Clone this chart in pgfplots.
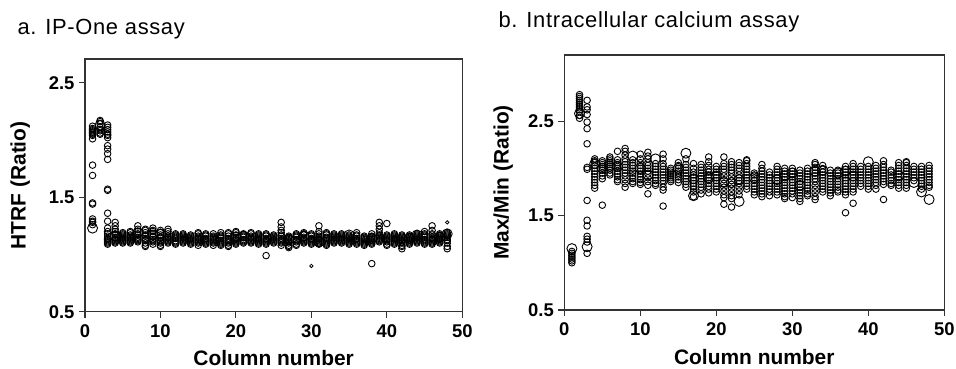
\documentclass[border=0pt]{standalone}
\usepackage{pgfplots}
\pgfplotsset{compat=1.18}
\usepackage{fontspec}
\setmainfont{Liberation Sans}
\begin{document}
\begin{tikzpicture}[x=1bp,y=1bp]
\path[use as bounding box] (0bp,0bp) rectangle (956bp,369bp);
\pgfplotsset{
  scatstyle/.style={
    scale only axis, xmin=0, xmax=50, ymin=0.5,
    axis line style={black!80, line width=1.1bp},
    tick style={black!80, line width=1.1bp},
    tick align=outside, major tick length=6bp,
    xtick pos=bottom, ytick pos=left,
    xtick={0,10,20,30,40,50}, ytick={0.5,1.5,2.5},
    minor tick num=0,
    /pgf/number format/assume math mode=true,
    tick label style={font=\fontsize{18.5}{20}\selectfont\bfseries, black},
    xticklabel style={yshift=-3bp},
    yticklabel style={xshift=-1bp},
    yticklabel={\pgfmathprintnumber[fixed,precision=1,fixed zerofill]{\tick}},
    label style={font=\fontsize{21}{24}\selectfont\bfseries},
    clip=false,
  },
  sm/.style={only marks, mark=o, mark size=3.3bp, mark options={line width=0.9bp, draw=black}},
  bg/.style={only marks, mark=o, mark size=5bp, mark options={line width=0.9bp, draw=black}},
  tn/.style={only marks, mark=o, mark size=1.7bp, mark options={line width=0.8bp, draw=black}},
}
\node[anchor=base west, font=\fontsize{22}{26}\selectfont\addfontfeature{LetterSpace=3}] at (14bp,334bp) {a. IP-One assay};
\node[anchor=base west, font=\fontsize{22}{26}\selectfont\addfontfeature{LetterSpace=3}] at (495bp,341bp) {b. Intracellular calcium assay};

\begin{axis}[scatstyle, at={(85bp,57.3bp)}, anchor=south west, width=377.3bp, height=252.7bp, ymax=2.707,
  xlabel={Column number}, ylabel={HTRF (Ratio)},
  xlabel style={at={(axis description cs:0.5,-0.214)}, anchor=base},
  ylabel style={at={(axis description cs:-0.172,0.5)}, anchor=center}]
\addplot[sm] coordinates {
(1,2.12)(1,2.10)(1,2.09)(1,2.08)(1,2.07)(1,2.06)(1,2.05)(1,2.04)(1,2.01)(1,1.78)(1,1.69)(1,1.45)(1,1.44)(1,1.31)(1,1.29)(1,1.28)(1,1.26)
(2,2.17)(2,2.16)(2,2.14)(2,2.11)(2,2.09)(2,2.08)(2,2.06)(2,2.05)
(3,2.13)(3,2.11)(3,2.09)(3,2.07)(3,2.05)(3,2.04)(3,2.02)(3,1.95)(3,1.92)(3,1.88)(3,1.83)(3,1.57)(3,1.56)(3,1.36)(3,1.29)(3,1.23)(3,1.20)(3,1.18)(3,1.16)(3,1.14)(3,1.13)(3,1.12)(3,1.11)(3,1.10)(3,1.09)
(4,1.28)(4,1.25)(4,1.22)(4,1.20)(4,1.18)(4,1.17)(4,1.15)(4,1.14)(4,1.13)(4,1.12)(4,1.11)(4,1.10)
(5,1.19)(5,1.18)(5,1.17)(5,1.16)(5,1.15)(5,1.14)(5,1.13)(5,1.12)(5,1.11)(5,1.10)
(6,1.20)(6,1.19)(6,1.17)(6,1.16)(6,1.15)(6,1.14)(6,1.13)(6,1.12)(6,1.11)(6,1.10)
(7,1.25)(7,1.22)(7,1.20)(7,1.18)(7,1.17)(7,1.15)(7,1.14)(7,1.13)(7,1.12)(7,1.11)
(8,1.22)(8,1.21)(8,1.19)(8,1.17)(8,1.16)(8,1.14)(8,1.13)(8,1.12)(8,1.10)(8,1.08)(8,1.07)
(9,1.23)(9,1.21)(9,1.20)(9,1.18)(9,1.16)(9,1.15)(9,1.13)(9,1.12)(9,1.11)(9,1.09)
(10,1.21)(10,1.19)(10,1.17)(10,1.15)(10,1.14)(10,1.12)(10,1.11)(10,1.10)(10,1.08)(10,1.07)
(11,1.22)(11,1.20)(11,1.18)(11,1.16)(11,1.15)(11,1.14)(11,1.13)(11,1.12)(11,1.11)(11,1.10)
(12,1.18)(12,1.17)(12,1.16)(12,1.15)(12,1.14)(12,1.12)(12,1.11)(12,1.10)(12,1.09)
(13,1.18)(13,1.17)(13,1.16)(13,1.15)(13,1.14)(13,1.13)(13,1.12)(13,1.11)(13,1.10)
(14,1.17)(14,1.16)(14,1.15)(14,1.14)(14,1.13)(14,1.12)(14,1.11)(14,1.10)(14,1.09)
(15,1.19)(15,1.18)(15,1.16)(15,1.15)(15,1.14)(15,1.13)(15,1.12)(15,1.11)(15,1.10)(15,1.08)
(16,1.18)(16,1.17)(16,1.16)(16,1.14)(16,1.13)(16,1.12)(16,1.11)(16,1.10)(16,1.09)
(17,1.18)(17,1.16)(17,1.15)(17,1.14)(17,1.13)(17,1.12)(17,1.11)(17,1.10)(17,1.08)
(18,1.19)(18,1.17)(18,1.16)(18,1.15)(18,1.14)(18,1.12)(18,1.11)(18,1.10)(18,1.09)(18,1.08)
(19,1.19)(19,1.18)(19,1.16)(19,1.14)(19,1.13)(19,1.12)(19,1.11)(19,1.10)(19,1.08)(19,1.07)
(20,1.20)(20,1.19)(20,1.17)(20,1.15)(20,1.14)(20,1.13)(20,1.12)(20,1.11)(20,1.10)(20,1.09)
(21,1.18)(21,1.17)(21,1.16)(21,1.15)(21,1.13)(21,1.12)(21,1.11)(21,1.10)
(22,1.19)(22,1.18)(22,1.16)(22,1.15)(22,1.14)(22,1.13)(22,1.12)(22,1.11)(22,1.10)
(23,1.18)(23,1.17)(23,1.16)(23,1.15)(23,1.14)(23,1.13)(23,1.12)(23,1.11)(23,1.10)(23,1.09)
(24,1.18)(24,1.17)(24,1.16)(24,1.14)(24,1.13)(24,1.12)(24,1.11)(24,1.10)(24,1.09)(24,0.99)
(25,1.17)(25,1.16)(25,1.15)(25,1.14)(25,1.13)(25,1.12)(25,1.11)(25,1.10)
(26,1.28)(26,1.24)(26,1.21)(26,1.19)(26,1.17)(26,1.16)(26,1.14)(26,1.13)(26,1.12)(26,1.11)(26,1.10)(26,1.08)
(27,1.16)(27,1.15)(27,1.14)(27,1.13)(27,1.12)(27,1.11)(27,1.10)(27,1.08)(27,1.07)(27,1.06)
(28,1.18)(28,1.17)(28,1.16)(28,1.15)(28,1.13)(28,1.12)(28,1.11)(28,1.09)(28,1.08)
(29,1.19)(29,1.18)(29,1.17)(29,1.15)(29,1.14)(29,1.13)(29,1.12)(29,1.11)(29,1.10)
(30,1.18)(30,1.17)(30,1.16)(30,1.14)(30,1.13)(30,1.12)(30,1.11)(30,1.10)(30,1.09)
(31,1.25)(31,1.20)(31,1.18)(31,1.16)(31,1.15)(31,1.14)(31,1.13)(31,1.12)(31,1.11)(31,1.10)(31,1.09)
(32,1.19)(32,1.18)(32,1.17)(32,1.15)(32,1.14)(32,1.12)(32,1.11)(32,1.10)(32,1.09)(32,1.08)
(33,1.18)(33,1.17)(33,1.16)(33,1.15)(33,1.14)(33,1.13)(33,1.12)(33,1.11)(33,1.10)
(34,1.18)(34,1.17)(34,1.16)(34,1.15)(34,1.14)(34,1.13)(34,1.12)(34,1.11)(34,1.10)
(35,1.17)(35,1.16)(35,1.15)(35,1.14)(35,1.13)(35,1.12)(35,1.11)(35,1.10)(35,1.09)
(36,1.19)(36,1.17)(36,1.16)(36,1.14)(36,1.13)(36,1.12)(36,1.11)(36,1.10)(36,1.09)
(37,1.16)(37,1.15)(37,1.14)(37,1.13)(37,1.12)(37,1.11)(37,1.10)(37,1.09)(37,1.08)
(38,1.18)(38,1.16)(38,1.15)(38,1.14)(38,1.13)(38,1.12)(38,1.11)(38,1.10)(38,1.09)(38,0.92)
(39,1.28)(39,1.25)(39,1.22)(39,1.19)(39,1.17)(39,1.16)(39,1.15)(39,1.14)(39,1.13)(39,1.12)(39,1.11)
(40,1.27)(40,1.17)(40,1.16)(40,1.15)(40,1.14)(40,1.13)(40,1.12)(40,1.11)(40,1.09)(40,1.08)
(41,1.18)(41,1.17)(41,1.16)(41,1.15)(41,1.14)(41,1.13)(41,1.12)(41,1.11)(41,1.10)(41,1.09)
(42,1.17)(42,1.16)(42,1.15)(42,1.14)(42,1.13)(42,1.12)(42,1.11)(42,1.10)(42,1.08)(42,1.07)(42,1.05)
(43,1.17)(43,1.16)(43,1.15)(43,1.14)(43,1.13)(43,1.12)(43,1.11)(43,1.10)(43,1.09)
(44,1.18)(44,1.17)(44,1.16)(44,1.15)(44,1.14)(44,1.13)(44,1.12)(44,1.11)(44,1.10)
(45,1.20)(45,1.18)(45,1.17)(45,1.16)(45,1.15)(45,1.13)(45,1.12)(45,1.11)(45,1.10)(45,1.09)
(46,1.25)(46,1.21)(46,1.18)(46,1.17)(46,1.15)(46,1.14)(46,1.13)(46,1.12)(46,1.11)(46,1.10)(46,1.09)
(47,1.18)(47,1.17)(47,1.16)(47,1.15)(47,1.14)(47,1.13)(47,1.12)(47,1.11)(47,1.10)
(48,1.19)(48,1.18)(48,1.17)(48,1.16)(48,1.15)(48,1.13)(48,1.12)(48,1.10)(48,1.07)(48,1.05)
};
\addplot[bg] coordinates {(1,1.23)(2,2.13)(4,1.16)(7,1.19)(9,1.17)(10,1.18)(20,1.15)(21,1.16)(27,1.13)(29,1.16)(31,1.11)(35,1.17)(38,1.14)(43,1.14)(44,1.17)(47,1.15)(48,1.18)};
\addplot[tn] coordinates {(30,0.90)(48,1.28)};
\end{axis}

\begin{axis}[scatstyle, at={(564.3bp,59bp)}, anchor=south west, width=380bp, height=255bp, ymax=3.2,
  xlabel={Column number}, ylabel={Max/Min (Ratio)},
  xlabel style={at={(axis description cs:0.5,-0.212)}, anchor=base},
  ylabel style={at={(axis description cs:-0.161,0.5)}, anchor=center}]
\addplot[sm] coordinates {
(1,1.12)(1,1.10)(1,1.08)(1,1.06)(1,1.04)(1,1.02)(1,1.00)
(2,2.78)(2,2.76)(2,2.74)(2,2.72)(2,2.70)(2,2.68)(2,2.66)(2,2.64)(2,2.62)(2,2.60)(2,2.56)(2,2.53)
(3,2.72)(3,2.65)(3,2.62)(3,2.57)(3,2.49)(3,2.42)(3,2.26)(3,2.01)(3,1.99)(3,1.66)(3,1.45)(3,1.39)(3,1.28)(3,1.25)(3,1.22)(3,1.10)
(4,2.10)(4,2.08)(4,2.06)(4,2.03)(4,2.00)(4,1.97)(4,1.94)(4,1.91)(4,1.88)(4,1.85)(4,1.82)(4,1.79)
(5,2.08)(5,2.06)(5,2.04)(5,2.02)(5,2.00)(5,1.98)(5,1.95)(5,1.92)(5,1.89)(5,1.61)
(6,2.12)(6,2.10)(6,2.08)(6,2.06)(6,2.04)(6,2.02)(6,2.00)(6,1.98)(6,1.95)(6,1.93)
(7,2.18)(7,2.09)(7,2.06)(7,2.04)(7,2.02)(7,2.00)(7,1.97)(7,1.94)(7,1.91)(7,1.88)(7,1.86)
(8,2.21)(8,2.18)(8,2.14)(8,2.10)(8,2.07)(8,2.04)(8,2.01)(8,1.98)(8,1.95)(8,1.92)(8,1.88)(8,1.84)(8,1.80)
(9,2.09)(9,2.06)(9,2.03)(9,2.00)(9,1.97)(9,1.95)(9,1.92)(9,1.89)(9,1.86)(9,1.84)
(10,2.15)(10,2.10)(10,2.06)(10,2.03)(10,2.00)(10,1.97)(10,1.94)(10,1.91)(10,1.88)(10,1.85)(10,1.83)
(11,2.17)(11,2.13)(11,2.10)(11,2.06)(11,2.03)(11,2.00)(11,1.97)(11,1.94)(11,1.90)(11,1.86)(11,1.82)(11,1.73)
(12,2.05)(12,2.02)(12,1.99)(12,1.96)(12,1.93)(12,1.90)(12,1.87)(12,1.84)(12,1.82)
(13,2.15)(13,2.10)(13,2.05)(13,2.02)(13,1.99)(13,1.96)(13,1.93)(13,1.90)(13,1.87)(13,1.84)(13,1.80)(13,1.77)(13,1.60)
(14,2.00)(14,1.98)(14,1.96)(14,1.94)(14,1.92)(14,1.90)(14,1.88)(14,1.86)
(15,2.06)(15,2.03)(15,2.00)(15,1.97)(15,1.95)(15,1.93)(15,1.91)(15,1.88)(15,1.85)
(16,2.10)(16,2.04)(16,2.01)(16,1.98)(16,1.95)(16,1.92)(16,1.89)(16,1.86)(16,1.83)(16,1.80)
(17,2.05)(17,2.00)(17,1.96)(17,1.93)(17,1.90)(17,1.87)(17,1.84)(17,1.81)(17,1.78)(17,1.75)(17,1.70)
(18,2.04)(18,2.01)(18,1.98)(18,1.95)(18,1.92)(18,1.89)(18,1.86)(18,1.83)(18,1.80)(18,1.77)(18,1.73)
(19,2.12)(19,2.07)(19,2.03)(19,1.99)(19,1.96)(19,1.93)(19,1.90)(19,1.87)(19,1.84)(19,1.81)(19,1.78)(19,1.74)
(20,2.02)(20,1.99)(20,1.96)(20,1.93)(20,1.90)(20,1.87)(20,1.84)(20,1.81)(20,1.78)(20,1.75)
(21,2.12)(21,2.05)(21,2.02)(21,1.99)(21,1.96)(21,1.92)(21,1.88)(21,1.84)(21,1.80)(21,1.76)(21,1.72)(21,1.69)(21,1.62)
(22,2.07)(22,2.04)(22,2.01)(22,1.98)(22,1.95)(22,1.91)(22,1.87)(22,1.83)(22,1.79)(22,1.75)(22,1.71)(22,1.68)(22,1.59)
(23,2.06)(23,2.03)(23,2.00)(23,1.97)(23,1.93)(23,1.90)(23,1.87)(23,1.84)(23,1.80)(23,1.76)(23,1.72)
(24,2.09)(24,2.08)(24,2.05)(24,2.02)(24,1.99)(24,1.96)(24,1.93)(24,1.90)(24,1.87)(24,1.84)(24,1.81)(24,1.78)
(25,1.95)(25,1.93)(25,1.90)(25,1.87)(25,1.84)(25,1.81)(25,1.78)(25,1.75)(25,1.72)
(26,2.04)(26,2.00)(26,1.97)(26,1.94)(26,1.91)(26,1.88)(26,1.85)(26,1.82)(26,1.79)(26,1.76)(26,1.73)(26,1.70)
(27,1.96)(27,1.93)(27,1.90)(27,1.87)(27,1.84)(27,1.81)(27,1.78)(27,1.75)(27,1.71)
(28,2.02)(28,1.99)(28,1.96)(28,1.93)(28,1.90)(28,1.87)(28,1.84)(28,1.81)(28,1.78)(28,1.75)(28,1.72)
(29,2.00)(29,1.97)(29,1.94)(29,1.91)(29,1.88)(29,1.85)(29,1.82)(29,1.79)(29,1.76)(29,1.73)(29,1.70)(29,1.68)
(30,2.00)(30,1.97)(30,1.94)(30,1.91)(30,1.88)(30,1.85)(30,1.82)(30,1.79)(30,1.76)(30,1.73)(30,1.69)
(31,1.98)(31,1.95)(31,1.92)(31,1.89)(31,1.86)(31,1.83)(31,1.80)(31,1.77)(31,1.74)(31,1.71)(31,1.68)(31,1.65)
(32,2.00)(32,1.97)(32,1.94)(32,1.91)(32,1.88)(32,1.85)(32,1.82)(32,1.79)(32,1.76)(32,1.73)(32,1.71)
(33,2.06)(33,2.04)(33,2.01)(33,1.98)(33,1.95)(33,1.92)(33,1.89)(33,1.86)(33,1.82)(33,1.78)(33,1.74)(33,1.70)(33,1.67)
(34,2.03)(34,1.99)(34,1.96)(34,1.93)(34,1.90)(34,1.87)(34,1.84)(34,1.81)(34,1.78)(34,1.75)
(35,1.98)(35,1.95)(35,1.92)(35,1.89)(35,1.86)(35,1.83)(35,1.80)(35,1.77)(35,1.74)(35,1.71)
(36,1.98)(36,1.95)(36,1.92)(36,1.89)(36,1.86)(36,1.83)(36,1.80)(36,1.77)(36,1.75)
(37,2.02)(37,1.99)(37,1.96)(37,1.93)(37,1.90)(37,1.87)(37,1.84)(37,1.81)(37,1.78)(37,1.75)(37,1.72)(37,1.53)
(38,2.05)(38,2.02)(38,1.99)(38,1.96)(38,1.93)(38,1.90)(38,1.87)(38,1.84)(38,1.81)(38,1.78)(38,1.75)(38,1.63)
(39,2.02)(39,1.99)(39,1.96)(39,1.93)(39,1.90)(39,1.87)(39,1.84)(39,1.81)
(40,2.02)(40,1.99)(40,1.96)(40,1.93)(40,1.90)(40,1.87)(40,1.84)(40,1.81)(40,1.78)
(41,2.03)(41,2.00)(41,1.97)(41,1.94)(41,1.91)(41,1.88)(41,1.85)(41,1.82)(41,1.78)
(42,2.08)(42,2.04)(42,2.01)(42,1.98)(42,1.95)(42,1.92)(42,1.89)(42,1.86)(42,1.83)(42,1.67)
(43,1.98)(43,1.96)(43,1.93)(43,1.90)(43,1.87)(43,1.84)(43,1.82)
(44,2.06)(44,2.03)(44,2.00)(44,1.97)(44,1.94)(44,1.91)(44,1.88)(44,1.85)(44,1.82)(44,1.79)
(45,2.07)(45,2.06)(45,2.03)(45,2.00)(45,1.97)(45,1.94)(45,1.91)(45,1.88)(45,1.85)(45,1.82)(45,1.79)
(46,2.02)(46,1.99)(46,1.96)(46,1.93)(46,1.90)(46,1.87)
(47,2.02)(47,1.99)(47,1.96)(47,1.93)(47,1.90)(47,1.87)(47,1.84)(47,1.81)(47,1.78)
(48,2.03)(48,2.00)(48,1.97)(48,1.94)(48,1.91)(48,1.88)(48,1.85)(48,1.82)(48,1.80)
};
\addplot[bg] coordinates {(1,1.15)(2,2.58)(3,1.17)(4,2.05)(5,2.00)(7,2.02)(9,2.13)(10,2.00)(11,1.93)(12,2.10)(15,2.00)(16,2.16)(17,1.89)(17,1.71)(19,1.90)(20,1.92)(21,1.85)(22,1.85)(23,1.88)(23,1.65)(25,1.90)(28,1.88)(29,1.92)(30,1.95)(31,1.82)(33,1.97)(34,1.98)(36,1.95)(37,1.97)(38,1.92)(40,2.07)(44,1.92)(46,1.85)(47,1.75)(48,1.67)};
\end{axis}
\end{tikzpicture}
\end{document}
